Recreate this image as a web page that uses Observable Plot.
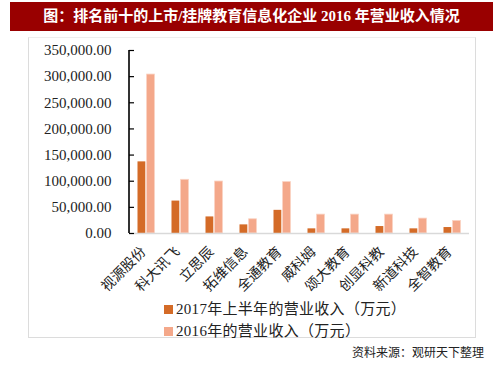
<!DOCTYPE html>
<html><head><meta charset="utf-8">
<script src="https://cdn.jsdelivr.net/npm/d3@7"></script>
<script src="https://cdn.jsdelivr.net/npm/@observablehq/plot@0.6"></script>
<style>
body{margin:0;background:#fff;width:503px;height:378px;position:relative;overflow:hidden;font-family:"Liberation Serif","Noto Sans CJK SC",serif;}
#title{position:absolute;left:10px;top:2px;width:483px;height:29px;background:#990000;color:#fff;font:bold 15px "Liberation Serif","Noto Sans CJK SC",serif;line-height:29px;text-align:center;}
#box{position:absolute;left:28px;top:37px;width:446px;height:299px;border:1px solid #dcdcdc;border-top-color:#eee;}
#chart{position:absolute;left:0;top:0;}
.leg{position:absolute;left:135px;font-size:15px;color:#222;white-space:nowrap;line-height:16px;letter-spacing:0.3px;}
.leg span{display:inline-block;width:9px;height:9px;margin-right:3px;vertical-align:0px;}
#src{position:absolute;left:352px;top:343px;font:12px "Noto Sans CJK SC",sans-serif;color:#222;}
</style></head>
<body>
<div id="title">图：排名前十的上市/挂牌教育信息化企业 2016 年营业收入情况</div>
<div id="box"><div id="chart"></div>
<div class="leg" style="top:263px"><span style="background:#D46B27"></span>2017年上半年的营业收入（万元）</div>
<div class="leg" style="top:285px"><span style="background:#F4A88A"></span>2016年的营业收入（万元）</div>
</div>
<div id="src">资料来源：观研天下整理</div>
<script>
const categories = ["视源股份","科大讯飞","立思辰","拓维信息","全通教育","威科姆","颂大教育","创显科教","新道科技","全智教育"];
const h1_2017 = [137000, 62000, 31700, 16500, 44300, 8900, 8900, 13300, 8900, 11400];
const rev2016 = [304000, 102700, 99400, 27200, 98300, 36100, 36100, 36100, 28500, 24100];
const yTicks = [0, 50000, 100000, 150000, 200000, 250000, 300000, 350000];

const data = categories.map((c, i) => ({c, a: h1_2017[i], b: rev2016[i]}));
const W = 446, H = 262, ML = 100, MR = 6, MT = 12, MB = 67;
const band = (W - ML - MR) / categories.length;
const chart = Plot.plot({
  width: W, height: H,
  marginLeft: ML, marginRight: MR, marginTop: MT, marginBottom: MB,
  style: {fontFamily: '"Liberation Serif","Noto Sans CJK SC",serif', color: "#222"},
  x: {domain: categories, padding: 0, label: null, axis: null},
  y: {domain: [0, 350000], label: null, axis: null},
  marks: [
    Plot.barY(data, {x: "c", y: "a", fill: "#D46B27", insetLeft: 8.5, insetRight: 17.7}),
    Plot.barY(data, {x: "c", y: "b", fill: "#F4A88A", stroke: "#FAD3C3", strokeWidth: 0.8, insetLeft: 17.6, insetRight: 8.5}),
    Plot.ruleY([0], {stroke: "#d9d9d9", strokeWidth: 1.5}),
    Plot.barY([categories[0]], {x: d => d, y1: () => 0, y2: () => 350000, fill: "#000", insetLeft: -0.8, insetRight: band - 0.8}),
    Plot.axisY({ticks: yTicks, tickSize: 5, dx: 5, tickFormat: () => "", stroke: "#000", strokeWidth: 1.2, label: null}),
    Plot.axisY({ticks: yTicks, tickSize: 0, tickPadding: 18, tickFormat: d3.format(",.2f"), fontSize: 15, label: null}),
    Plot.axisX({tickSize: 0, tickRotate: -45, tickPadding: 16, fontSize: 14, fontFamily: '"Noto Sans CJK SC",serif', label: null, dx: -3})
  ]
});
document.getElementById("chart").appendChild(chart);
</script>
</body></html>
